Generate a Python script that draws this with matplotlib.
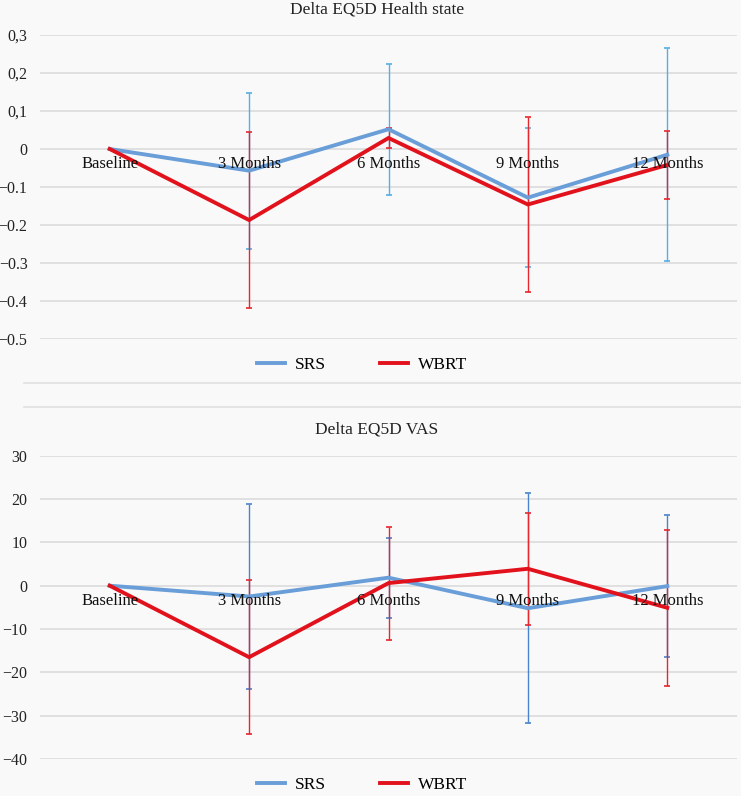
import numpy as np
import matplotlib
matplotlib.use("Agg")
import matplotlib.pyplot as plt
from matplotlib.lines import Line2D

plt.rcParams['font.family'] = ['Liberation Serif', 'DejaVu Serif']

categories = ["Baseline", "3 Months", "6 Months", "9 Months", "12 Months"]

# Delta EQ5D Health state
hs_srs = [0, -0.057, 0.052, -0.128, -0.015]
hs_srs_err = [0, 0.205, 0.172, 0.183, 0.281]
hs_wbrt = [0, -0.187, 0.029, -0.146, -0.042]
hs_wbrt_err = [0, 0.232, 0.027, 0.231, 0.089]
hs_ticks = [0.3, 0.2, 0.1, 0, -0.1, -0.2, -0.3, -0.4, -0.5]
hs_labels = ["0,3", "0,2", "0,1", "0", "\u22120.1", "\u22120.2", "\u22120.3", "\u22120.4", "\u22120.5"]

# Delta EQ5D VAS
vas_srs = [0, -2.5, 1.85, -5.2, -0.1]
vas_srs_err = [0, 21.4, 9.2, 26.5, 16.4]
vas_wbrt = [0, -16.5, 0.6, 3.9, -5.1]
vas_wbrt_err = [0, 17.7, 13.05, 12.9, 18.0]
vas_ticks = [30, 20, 10, 0, -10, -20, -30, -40]
vas_labels = ["30", "20", "10", "0", "\u221210", "\u221220", "\u221230", "\u221240"]

BG = "#f9f9f9"
SRS_LINE = "#6a9ed8"
WBRT_LINE = "#e2121c"
WBRT_ERR = "#e8262e"

W, H = 741, 796
fig = plt.figure(figsize=(W / 100, H / 100), dpi=100, facecolor=BG)


def make_axes(top_px, bottom_px):
    left, right = 40, 737
    return fig.add_axes([left / W, 1 - bottom_px / H, (right - left) / W, (bottom_px - top_px) / H])


def draw(ax, srs, srs_err, wbrt, wbrt_err, srs_err_col, ticks, labels, title, title_y):
    x = np.arange(len(categories))
    ax.set_facecolor(BG)
    ax.errorbar(x[1:], srs[1:], yerr=srs_err[1:], fmt='none', ecolor=srs_err_col,
                elinewidth=1.0, capsize=2.5, capthick=1.2, zorder=2)
    ax.errorbar(x[1:], wbrt[1:], yerr=wbrt_err[1:], fmt='none', ecolor=WBRT_ERR,
                elinewidth=1.0, capsize=2.5, capthick=1.2, zorder=2.2)
    ax.plot(x, srs, color=SRS_LINE, lw=2.8, label="SRS", zorder=3, solid_joinstyle='miter')
    ax.plot(x, wbrt, color=WBRT_LINE, lw=2.8, label="WBRT", zorder=3.2, solid_joinstyle='miter')

    ax.set_xlim(-0.5, len(categories) - 0.5)
    ax.set_ylim(min(ticks), max(ticks))
    ax.set_yticks(ticks, labels)
    ax.set_xticks([])
    ax.tick_params(axis='y', length=0, pad=9, labelsize=11.5, labelcolor="#222222")
    ax.yaxis.grid(True, color="#dedede", lw=1.3)
    ax.set_axisbelow(True)
    for s in ax.spines.values():
        s.set_visible(False)

    for i, c in enumerate(categories):
        ax.annotate(c, (i, 0), xytext=(0, -11), textcoords='offset points',
                    ha='center', va='center', fontsize=12, color="#111111", zorder=5)

    ax.legend(loc='center', bbox_to_anchor=(0.462, -0.086), ncol=2, frameon=False,
              fontsize=12.5, handlelength=1.6, handletextpad=0.6, columnspacing=3.1)
    fig.text(377 / W, 1 - title_y / H, title, ha='center', va='center',
             fontsize=12.5, color="#222222")


ax1 = make_axes(35, 339)
draw(ax1, hs_srs, hs_srs_err, hs_wbrt, hs_wbrt_err, "#55aee6",
     hs_ticks, hs_labels, "Delta EQ5D Health state", 10)

ax2 = make_axes(455.7, 759)
draw(ax2, vas_srs, vas_srs_err, vas_wbrt, vas_wbrt_err, "#4a84cc",
     vas_ticks, vas_labels, "Delta EQ5D VAS", 430)

# chart frame edges between the two panels
for yp in (383, 407):
    fig.add_artist(Line2D([24 / W, 1], [1 - yp / H, 1 - yp / H], transform=fig.transFigure,
                          color="#e2e2e2", lw=1.3))

fig.savefig("out.png", dpi=100, facecolor=BG)
